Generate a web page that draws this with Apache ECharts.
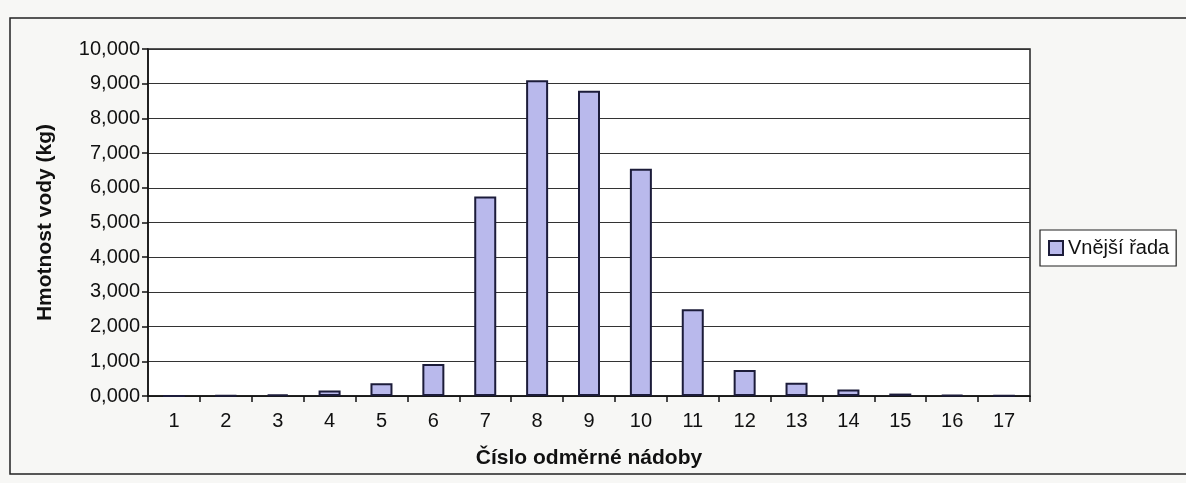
<!DOCTYPE html>
<html>
<head>
<meta charset="utf-8">
<script src="https://cdn.jsdelivr.net/npm/echarts@6/dist/echarts.min.js"></script>
<style>
  html, body { margin: 0; padding: 0; background: #f7f7f5; }
  #chart { width: 1186px; height: 483px; }
</style>
</head>
<body>
<div id="chart"></div>
<script>
// Hmotnost vody v jednotlivých odměrných nádobách
const categories = ['1', '2', '3', '4', '5', '6', '7', '8', '9', '10', '11', '12', '13', '14', '15', '16', '17'];
const seriesName = 'Vnější řada';
const waterMass = [0.005, 0.02, 0.05, 0.16, 0.37, 0.92, 5.75, 9.1, 8.8, 6.55, 2.5, 0.75, 0.38, 0.19, 0.07, 0.03, 0.01];
const yTicks = { min: 0, max: 10, interval: 1 };
const yTitle = 'Hmotnost vody (kg)';
const xTitle = 'Číslo odměrné nádoby';

const font = 'Liberation Sans, Arial, sans-serif';
const chart = echarts.init(document.getElementById('chart'), null, { renderer: 'canvas' });

chart.setOption({
  backgroundColor: '#f7f7f5',
  animation: false,
  textStyle: { fontFamily: font, color: '#111' },
  graphic: [{
    type: 'rect',
    shape: { x: 10, y: 18, width: 1200, height: 456 },
    style: { fill: 'none', stroke: '#222', lineWidth: 1.5 },
    silent: true,
    z: -10
  }],
  grid: {
    left: 148, right: 156, top: 49, bottom: 87,
    show: true, backgroundColor: '#ffffff', borderColor: '#222', borderWidth: 1.5
  },
  legend: {
    data: [seriesName],
    left: 1040, top: 230,
    orient: 'vertical',
    padding: [8, 7, 8, 8],
    borderColor: '#222', borderWidth: 1.2,
    backgroundColor: '#ffffff',
    itemWidth: 14, itemHeight: 14, itemGap: 4,
    icon: 'rect',
    textStyle: { fontFamily: font, fontSize: 20, color: '#111', padding: [0, 0, 0, 0] }
  },
  xAxis: {
    type: 'category',
    data: categories,
    boundaryGap: true,
    name: xTitle,
    nameLocation: 'middle',
    nameGap: 52,
    nameTextStyle: { fontFamily: font, fontSize: 21, fontWeight: 'bold', color: '#111' },
    axisLine: { lineStyle: { color: '#111', width: 1.5 } },
    axisTick: { show: true, alignWithLabel: false, length: 6, lineStyle: { color: '#111', width: 1.5 } },
    axisLabel: { fontFamily: font, fontSize: 20, color: '#111', margin: 15 },
    splitLine: { show: false }
  },
  yAxis: {
    type: 'value',
    min: yTicks.min, max: yTicks.max, interval: yTicks.interval,
    name: yTitle,
    nameLocation: 'middle',
    nameGap: 92,
    nameRotate: 90,
    nameTextStyle: { fontFamily: font, fontSize: 21, fontWeight: 'bold', color: '#111' },
    axisLine: { show: true, lineStyle: { color: '#111', width: 1.5 } },
    axisTick: { show: true, length: 6, lineStyle: { color: '#111', width: 1.5 } },
    axisLabel: {
      fontFamily: font, fontSize: 20, color: '#111', margin: 8,
      formatter: v => v.toFixed(3).replace('.', ',')
    },
    splitLine: { show: true, lineStyle: { color: '#333', width: 1.2 } }
  },
  series: [{
    name: seriesName,
    type: 'bar',
    data: waterMass,
    barWidth: 22,
    itemStyle: { color: '#b9b9ec', borderColor: '#1c1c3a', borderWidth: 2 }
  }]
});
</script>
</body>
</html>
